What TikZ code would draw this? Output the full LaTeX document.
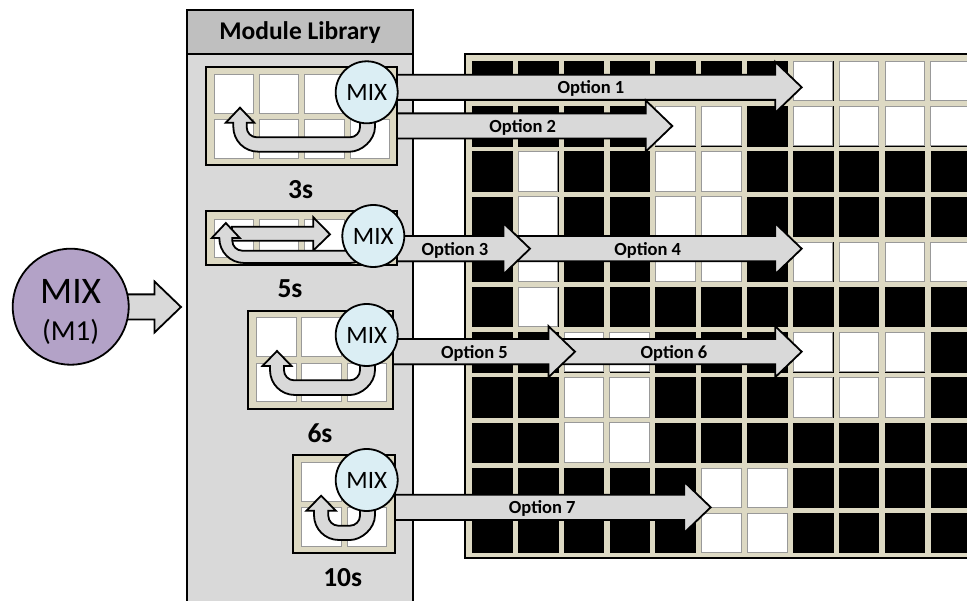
\documentclass[tikz,border=0pt]{standalone}
\usepackage{fontspec}
\setmainfont{Carlito}
\definecolor{beige}{HTML}{DDD9C3}
\definecolor{grigioc}{HTML}{D9D9D9}
\definecolor{grigiot}{HTML}{BFBFBF}
\definecolor{azzurro}{HTML}{DBEEF4}
\definecolor{viola}{HTML}{B3A2C7}
\tikzset{
  bordo/.style={draw=black,line width=1.8pt},
  blocco/.style={bordo,fill=grigioc,line join=miter},
  cellabianca/.style={draw=black!40,fill=white,line width=0.9pt},
  cellanera/.style={draw=black,fill=black,line width=0.5pt},
  modulo/.style={bordo,fill=beige},
  mixnodo/.style={circle,bordo,fill=azzurro,minimum size=62pt,inner sep=0pt,font=\fontsize{25}{28}\selectfont},
  opzione/.style={inner sep=0pt,font=\fontsize{18.5}{22}\bfseries\selectfont},
  tempo/.style={inner sep=0pt,font=\fontsize{27.5}{32}\bfseries\selectfont},
}
\begin{document}
\begin{tikzpicture}[x=1pt,y=-1pt]
        % --- macro riutilizzabili -----------------------------------------
        \def\casella#1#2#3{\draw[#3] ({472.3+45.85*#1},{61.3+45.2*#2}) rectangle ++(39.6,39.3);}
        \def\freccia#1#2#3{\draw[blocco] (#1 |- 0,#3-12.6) -- (#2-26.5,#3-12.6) -- (#2-26.5,#3-25.5)
            -- (#2,#3) -- (#2-26.5,#3+25.5) -- (#2-26.5,#3+12.6) -- (#1 |- 0,#3+12.6) -- cycle;}
        \def\celle#1#2#3{\foreach \cx in {#1} \foreach \cy in {#2} \draw[cellabianca] (\cx,\cy) rectangle ++(39.3,#3);}
        % xL, xI, yb, yi, ybarba, ys
        \def\ritorno#1#2#3#4#5#6{\draw[blocco] (375,#6) -- (375,#3-25) .. controls (375,#3-11) and (361,#3) .. (350,#3)
            -- (#1+25,#3) .. controls (#1+11,#3) and (#1,#3-11) .. (#1,#3-25) -- (#1,#5)
            -- ({#1-7.5},#5) -- ({(#1+#2)/2},#5-15) -- ({#2+7.5},#5) -- (#2,#5)
            -- (#2,#4-10) .. controls (#2,#4-4.5) and (#2+4.5,#4) .. (#2+10,#4)
            -- (350,#4) .. controls (355.5,#4) and (360,#4-4.5) .. (360,#4-10) -- (360,#6) -- cycle;}
        \clip (0,0) rectangle (967,601);
        % --- centri dei MIX ------------------------------------------------
        \coordinate (cm) at (70.7,306.7);
        \coordinate (ca) at (366.7,92.3);
        \coordinate (cb) at (373.3,236);
        \coordinate (cc) at (366.7,335);
        \coordinate (cd) at (366.7,480);
        % --- griglia del chip ----------------------------------------------
        \draw[modulo] (465,54) rectangle (990,558);
        \foreach \r in {0,...,10} \foreach \c in {0,...,10} \casella{\c}{\r}{cellanera}
        \foreach \r/\lista in {0/{7,8,9,10},1/{4,5,7,8,9,10},2/{1,4,5},3/{1,4,5},4/{1,4,5,7,8,9,10},
            5/{1},6/{2,3,7,8,9},7/{2,3,7,8,9},8/{2,3},9/{5,6},10/{5,6}}
            \foreach \c in \lista \casella{\c}{\r}{cellabianca}
        % --- libreria ------------------------------------------------------
        \draw[bordo,fill=grigioc] (187,54) rectangle (413,640);
        \draw[bordo,fill=grigiot] (187,10) rectangle (413,54);
        \node[inner sep=0pt,font=\fontsize{25.5}{30}\bfseries\selectfont] (titolo) at (300,33) {Module Library};
        % --- opzioni -------------------------------------------------------
        \freccia{ca}{801.7}{87.3}
        \freccia{ca}{672.3}{126}
        \freccia{cb}{801.7}{248.7}
        \freccia{cb}{530}{248.7}
        \freccia{cc}{801.7}{351.7}
        \freccia{cc}{575}{351.7}
        \freccia{cd}{710.7}{507.3}
        \node[opzione] (op1) at (591,88.5) {Option 1};
        \node[opzione] (op2) at (522.7,127) {Option 2};
        \node[opzione] (op3) at (455,250) {Option 3};
        \node[opzione] (op4) at (647.7,250) {Option 4};
        \node[opzione] (op5) at (474.5,353) {Option 5};
        \node[opzione] (op6) at (674,353) {Option 6};
        \node[opzione] (op7) at (542.3,508.5) {Option 7};
        % --- moduli --------------------------------------------------------
        \draw[modulo] (206,67.3) rectangle (396.7,165);
        \celle{214,259.3,304.7,350}{74.7,119.4}{39}
        \ritorno{233.3}{246.7}{151.7}{137.3}{122.7}{110}
        \draw[modulo] (206,211.3) rectangle (396.7,265);
        \celle{214,259.3,304.7,350}{219}{38}
        \draw[blocco] (232,226.7) -- (313.3,226.7) -- (313.3,217.3) -- (330,234.3)
            -- (313.3,250.5) -- (313.3,240.7) -- (232,240.7) -- cycle;
        \ritorno{219.3}{232.3}{263}{250.7}{238}{240}
        \draw[modulo] (248.3,310.7) rectangle (393.3,408.7);
        \celle{256.7,301.7,347}{317.7,363.3}{38.5}
        \ritorno{270}{284}{395}{380.3}{366}{350}
        \draw[modulo] (293.3,455) rectangle (395,553.3);
        \celle{301.7,347}{462.3,507.3}{39}
        \ritorno{314}{328.3}{540}{525.7}{510.7}{495}
        % --- nodi MIX ------------------------------------------------------
        \node[mixnodo] (mixa) at (ca) {MIX};
        \node[mixnodo] (mixb) at (cb) {MIX};
        \node[mixnodo] (mixc) at (cc) {MIX};
        \node[mixnodo] (mixd) at (cd) {MIX};
        \node[tempo] (t3) at (300.7,190) {3s};
        \node[tempo] (t5) at (290,289) {5s};
        \node[tempo] (t6) at (320,433.7) {6s};
        \node[tempo] (t10) at (342.7,577.7) {10s};
        % --- operazione ----------------------------------------------------
        \freccia{cm}{181}{307}
        \node[mixnodo,fill=viola,minimum size=116pt] (mixm) at (cm) {};
        \node[inner sep=0pt,font=\fontsize{37.5}{40}\selectfont] (mixt) at (70.7,291) {MIX};
        \node[inner sep=0pt,font=\fontsize{29}{32}\selectfont] (mixs) at (70.7,331.5) {(M1)};
\end{tikzpicture}
\end{document}
